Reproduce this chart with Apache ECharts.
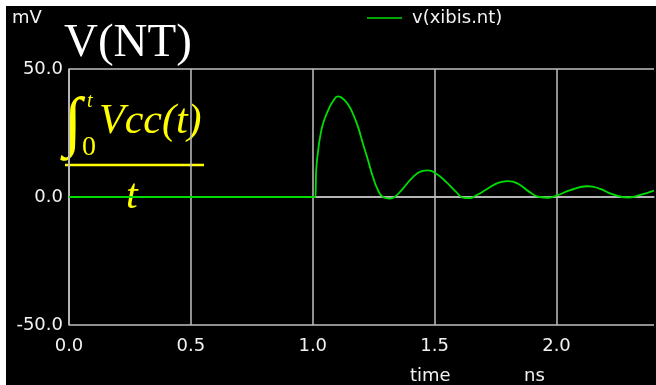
<!DOCTYPE html>
<html>
<head>
<meta charset="utf-8">
<script src="https://cdn.jsdelivr.net/npm/echarts@6/dist/echarts.min.js"></script>
<style>
html,body{margin:0;padding:0;background:#fff;}
#c{width:656px;height:385px;}
</style>
</head>
<body>
<div id="c"></div>
<script>
// time (ns)
const times = [0, 0.5, 1.0, 1.008, 1.015, 1.022, 1.029, 1.042, 1.063, 1.083, 1.104, 1.124, 1.145, 1.165, 1.186, 1.206, 1.227, 1.247, 1.268, 1.288, 1.316, 1.336, 1.370, 1.411, 1.445, 1.473, 1.507, 1.548, 1.589, 1.616, 1.643, 1.671, 1.712, 1.760, 1.800, 1.842, 1.890, 1.930, 1.964, 2.006, 2.054, 2.128, 2.176, 2.231, 2.292, 2.340, 2.400];
// v(xibis.nt) in mV
const volts = [0, 0, 0, 0, 11.7, 18.0, 22.8, 28.6, 33.8, 37.4, 39.3, 38.4, 36.1, 32.5, 27.3, 20.8, 14.3, 7.8, 2.6, 0, -0.6, 0, 3.3, 7.8, 10.0, 10.4, 9.1, 5.8, 1.9, -0.2, -0.4, 0.7, 2.9, 5.5, 6.2, 5.2, 1.9, 0, -0.3, 0.7, 2.6, 4.2, 3.3, 1.0, -0.2, 0.7, 2.5];
const seriesName = 'v(xibis.nt)';
const xTickLabels = ['0.0', '0.5', '1.0', '1.5', '2.0'];
const yTickLabels = ['-50.0', '0.0', '50.0'];

const chart = echarts.init(document.getElementById('c'), null, {renderer: 'canvas'});
const gridColor = '#c0c0c0';
const txt = '#f2f2f2';
const sans = 'DejaVu Sans';
const yellow = '#ffff00';

chart.setOption({
  backgroundColor: '#000000',
  animation: false,
  grid: {left: 69, top: 69, right: 2, bottom: 60, containLabel: false},
  legend: {
    data: [seriesName],
    left: 367, top: 9, padding: 0,
    icon: 'rect', itemWidth: 35, itemHeight: 1.5,
    textStyle: {color: txt, fontFamily: sans, fontSize: 18, padding: [0, 0, 0, 5]}
  },
  xAxis: {
    type: 'value', min: 0, max: 2.4, interval: 0.5,
    axisLine: {show: true, lineStyle: {color: gridColor, width: 1.5}},
    axisTick: {show: false},
    splitLine: {show: true, showMaxLine: false, lineStyle: {color: gridColor, width: 1.5}},
    axisLabel: {
      color: txt, fontFamily: sans, fontSize: 18, margin: 12,
      showMaxLabel: false,
      formatter: v => { const i = Math.round(v / 0.5); return Math.abs(v - i * 0.5) < 1e-6 && xTickLabels[i] !== undefined ? xTickLabels[i] : ''; }
    }
  },
  yAxis: {
    type: 'value', min: -50, max: 50, interval: 50,
    axisLine: {show: true, lineStyle: {color: gridColor, width: 1.5}},
    axisTick: {show: false},
    splitLine: {show: true, lineStyle: {color: gridColor, width: 1.5}},
    axisLabel: {
      color: txt, fontFamily: sans, fontSize: 18, margin: 6,
      formatter: v => yTickLabels[Math.round((v + 50) / 50)]
    }
  },
  series: [{
    name: seriesName, type: 'line',
    data: times.map((t, i) => [t, volts[i]]),
    showSymbol: false, smooth: 0.5,
    lineStyle: {color: '#00dd00', width: 1.8},
    itemStyle: {color: '#00dd00'},
    clip: true
  }],
  graphic: [
    {type: 'rect', shape: {x: 0, y: 0, width: 656, height: 6}, style: {fill: '#ffffff'}, z: 100},
    {type: 'rect', shape: {x: 0, y: 0, width: 6, height: 385}, style: {fill: '#ffffff'}, z: 100},
    {type: 'text', left: 12, top: 9, style: {text: 'mV', fill: txt, font: '18px "DejaVu Sans"'}},
    {type: 'text', left: 410, top: 367, style: {text: 'time', fill: txt, font: '18px "DejaVu Sans"'}},
    {type: 'text', left: 524, top: 367, style: {text: 'ns', fill: txt, font: '18px "DejaVu Sans"'}},
    {type: 'text', left: 64, top: 20, style: {text: 'V(NT)', fill: '#ffffff', font: '47px "Liberation Serif"'}},
    {type: 'text', left: 64, top: 93, style: {text: '\u222B', fill: yellow, font: '66px "Liberation Serif"'}},
    {type: 'text', left: 87, top: 92, style: {text: 't', fill: yellow, font: 'italic 20px "Liberation Serif"'}},
    {type: 'text', left: 82, top: 134, style: {text: '0', fill: yellow, font: '28px "Liberation Serif"'}},
    {type: 'text', left: 99, top: 101, style: {text: 'Vcc(t)', fill: yellow, font: 'italic 42px "Liberation Serif"'}},
    {type: 'line', shape: {x1: 65, y1: 165, x2: 204, y2: 165}, style: {stroke: yellow, lineWidth: 2.5}},
    {type: 'text', left: 126, top: 176, style: {text: 't', fill: yellow, font: 'italic 42px "Liberation Serif"'}}
  ]
});
</script>
</body>
</html>
